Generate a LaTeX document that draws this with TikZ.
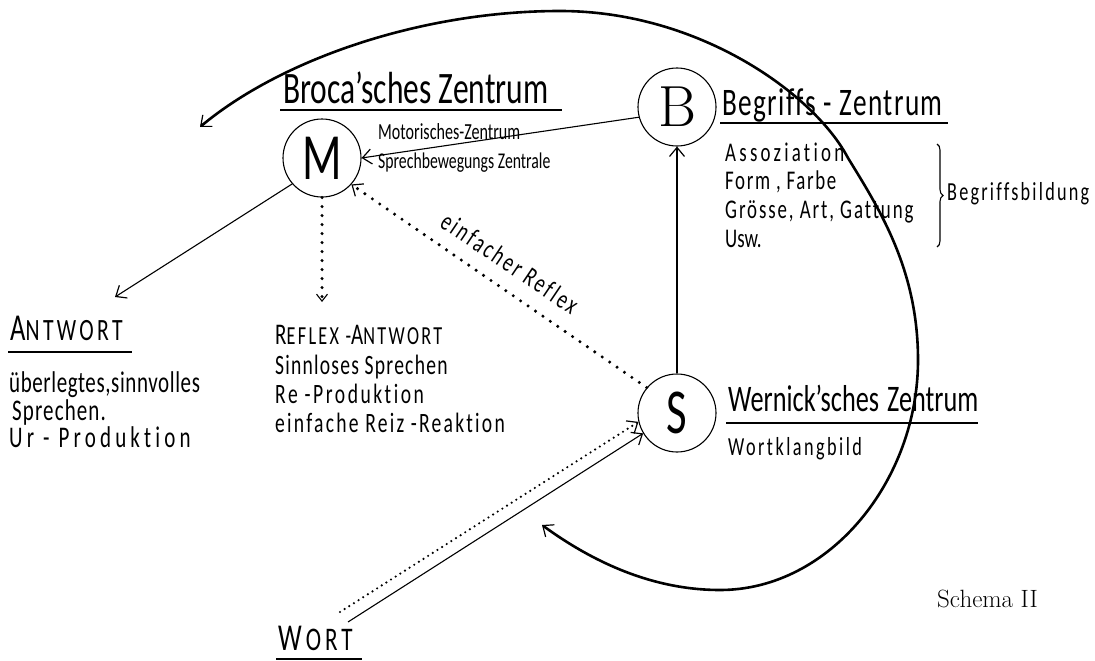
\documentclass[tikz,border=0pt]{standalone}
\usepackage{fontspec}
\newfontfamily\hand[FakeStretch=0.7,Ligatures=NoCommon]{Carlito}
\usetikzlibrary{arrows.meta,decorations.pathreplacing}
\newcommand{\fsz}[1]{\fontsize{#1}{#1}\selectfont}
\newcommand{\lsp}[1]{\addfontfeatures{LetterSpace=#1}}
\begin{document}
\begin{tikzpicture}[x=1pt,y=-1pt,
  ctr/.style={circle,draw,line width=1.1pt,minimum size=78pt,inner sep=0pt},
  lbl/.style={anchor=base west,inner sep=0pt,font=\hand},
  con/.style={line width=1.1pt},
  barb/.tip={Straight Barb[length=9pt,width=15pt,line width=1.2pt]},
  arr/.style={con,-barb},
  dots/.style={line width=3.4pt,line cap=round,dash pattern=on 0pt off 9pt},
  fdots/.style={line width=2.4pt,line cap=round,dash pattern=on 0pt off 5.5pt},
  uline/.style={line width=1.5pt},
  bigcurve/.style={line width=2.6pt}
]
\useasboundingbox (0,0) rectangle (1095,661);

% centres
\node[ctr] (M) at (322,158) {\hand\fsz{66}M};
\node[ctr] (B) at (677,107) {\fsz{58}B};
\node[ctr] (S) at (677,413) {\hand\fsz{64}S};

% labels
\node[lbl] (broca) at (283,103) {\fsz{45}Broca’sches Zentrum};
\node[lbl] (mot) at (378,139) {\fsz{23}Motorisches-Zentrum};
\node[lbl] (spr) at (378,168) {\fsz{22.5}Sprechbewegungs Zentrale};
\node[lbl] (begr) at (722,115) {\fsz{39}\lsp{3.6}Begriffs - Zentrum};
\node[lbl] (ass) at (725,161) {\fsz{27}\lsp{12}Assoziation};
\node[lbl] (form) at (725,189) {\fsz{27}\lsp{6}Form , Farbe};
\node[lbl] (gr) at (725,218) {\fsz{27}\lsp{7}Grösse, Art, Gattung};
\node[lbl] (usw) at (725,247) {\fsz{27}Usw.};
\node[lbl] (bb) at (947,200) {\fsz{26}\lsp{8.5}Begriffsbildung};
\node[lbl] (antw) at (10,340) {\fsz{38}\lsp{11}A\fsz{31}\lsp{11}NTWORT};
\node[lbl] (ue) at (9,392) {\fsz{30}\lsp{2}überlegtes,sinnvolles};
\node[lbl] (sp) at (12,420) {\fsz{30}\lsp{3.7}Sprechen.};
\node[lbl] (ur) at (9,447) {\fsz{30}\lsp{14}Ur - Produktion};
\node[lbl] (ref) at (275,344) {\fsz{30}\lsp{9}R\fsz{26}\lsp{9}EFLEX -\fsz{30}\lsp{9}A\fsz{26}\lsp{9}NTWORT};
\node[lbl] (sinn) at (275,374) {\fsz{28}\lsp{4.4}Sinnloses Sprechen};
\node[lbl] (rep) at (275,403) {\fsz{28}\lsp{9}Re -Produktion};
\node[lbl] (reiz) at (275,432) {\fsz{28}\lsp{8}einfache Reiz -Reaktion};
\node[lbl] (wern) at (728,411) {\fsz{37.5}Wernick’sches\hspace{8pt}Zentrum};
\node[lbl] (wkb) at (728,455) {\fsz{26}\lsp{9.5}Wortklangbild};
\node[lbl] (wort) at (278,650) {\fsz{38}W\hspace{4pt}\fsz{33}\lsp{12}ORT};
\node[anchor=base west,inner sep=0pt,font=\fsz{25}] (schema) at (937,607) {Schema II};
\node[inner sep=0pt,font=\hand\fsz{27},rotate=-34] (einf) at (510,263) {\lsp{9.7}einfacher Reflex};

% underlines
\draw[uline] (280,110) -- (562,110);
\draw[uline] (720,123) -- (948,123);
\draw[uline] (8,352) -- (132,352);
\draw[uline] (726,423) -- (978,423);
\draw[uline] (276,659) -- (362,659);

% brace
\draw[line width=1.1pt,decorate,decoration={brace,amplitude=6pt}] (937,144) -- (937,247);

% free ends
\coordinate (aend) at (115,297);
\coordinate (rend) at (322,302);
\coordinate (w1) at (348,622);
\coordinate (w2) at (340,612);
\coordinate (c0) at (542,525);
\coordinate (c1) at (720,590);
\coordinate (c2) at (918,360);
\coordinate (c3) at (848,158);
\coordinate (c4) at (560,11);
\coordinate (c5) at (200,127);

% connectors
\draw[arr] (B.195) -- (M.0);
\draw[arr] (S.north) -- (B.south);
\draw[dots,-barb] (S.140) -- (M.-42);
\draw[dots,-{Straight Barb[length=7pt,width=11pt,line width=1.1pt]}] (M.south) -- (rend);
\draw[arr] (M.221) -- (aend);
\draw[arr] (w1) -- (S.211);
\draw[fdots,-barb] (w2) -- (S.193);

% big loop
\draw[bigcurve,barb-barb] (c0) .. controls (590,560) and (650,590) .. (c1)
  .. controls (830,590) and (918,480) .. (c2)
  .. controls (918,270) and (880,210) .. (c3)
  .. controls (815,95) and (700,11) .. (c4)
  .. controls (420,11) and (280,60) .. (c5);
\end{tikzpicture}
\end{document}
